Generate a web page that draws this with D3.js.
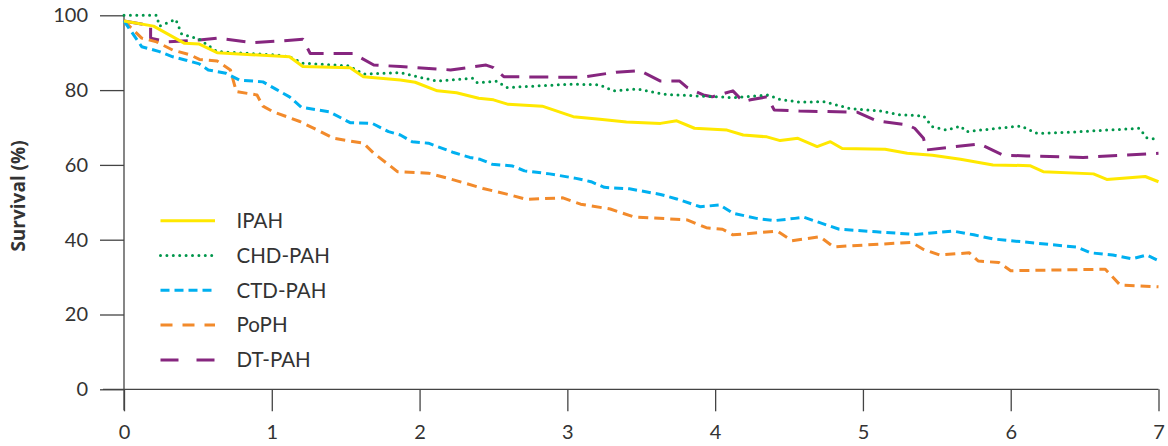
<!DOCTYPE html>
<html>
<head>
<meta charset="utf-8">
<script src="https://cdn.jsdelivr.net/npm/d3@7"></script>
<style>
  body { margin: 0; background: #fff; }
  text { font-family: Lato, "Open Sans", sans-serif; fill: #333; }
</style>
</head>
<body>
<div class="svg"></div>
<script>
// years since diagnosis, survival %
var ipah = [[0,98.5],[0.2,97.1],[0.41,92.5],[0.51,92.3],[0.63,90.0],[1.12,88.9],[1.21,86.3],[1.53,86.0],[1.62,83.6],[1.87,82.7],[1.97,82.1],[2.12,79.8],[2.25,79.3],[2.4,77.8],[2.5,77.4],[2.6,76.2],[2.83,75.7],[3.04,72.9],[3.22,72.2],[3.4,71.5],[3.63,71.1],[3.74,71.8],[3.86,69.8],[4.08,69.3],[4.19,68.0],[4.35,67.5],[4.44,66.5],[4.56,67.1],[4.69,64.9],[4.78,66.2],[4.86,64.4],[5.15,64.2],[5.3,63.1],[5.47,62.6],[5.66,61.5],[5.88,60.0],[6.13,59.8],[6.22,58.2],[6.56,57.6],[6.65,56.1],[6.91,56.9],[7,55.5]];
var chdPah = [[0,100],[0.22,100],[0.24,97.1],[0.35,98.9],[0.39,95.0],[0.51,93.6],[0.63,90.3],[1.03,89.4],[1.12,88.9],[1.21,87.2],[1.52,86.5],[1.62,84.3],[1.87,84.7],[1.98,83.6],[2.12,82.4],[2.36,83.2],[2.39,82.0],[2.52,82.4],[2.59,80.7],[3.04,81.6],[3.22,81.4],[3.31,79.8],[3.47,80.3],[3.65,78.9],[3.9,78.4],[4.12,78.0],[4.19,78.2],[4.36,78.7],[4.44,77.5],[4.57,76.8],[4.74,76.9],[4.91,75.1],[5.12,74.4],[5.25,73.4],[5.41,73.1],[5.47,70.2],[5.57,69.3],[5.66,70.4],[5.7,68.9],[5.84,69.5],[6.07,70.4],[6.18,68.4],[6.38,68.7],[6.87,69.8],[6.92,67.3],[7,66.8]];
var ctdPah = [[0,98.5],[0.12,91.6],[0.24,90.3],[0.33,88.9],[0.42,88.0],[0.51,87.0],[0.57,85.4],[0.69,84.5],[0.78,82.7],[0.94,82.2],[1.03,80.2],[1.12,78.2],[1.2,75.4],[1.39,74.2],[1.53,71.3],[1.68,71.1],[1.79,68.9],[1.87,68.0],[1.95,66.2],[2.06,65.8],[2.23,63.3],[2.34,62.0],[2.41,61.5],[2.49,60.2],[2.63,59.7],[2.71,58.4],[2.88,57.6],[3.06,56.4],[3.16,55.5],[3.25,54.0],[3.42,53.6],[3.63,52.1],[3.74,50.9],[3.9,48.8],[4.03,49.3],[4.12,47.1],[4.28,45.7],[4.4,45.1],[4.54,45.7],[4.6,46.0],[4.69,44.8],[4.84,42.8],[5.09,42.1],[5.36,41.4],[5.61,42.3],[5.75,41.3],[5.88,40.2],[6.45,38.0],[6.54,36.5],[6.69,35.9],[6.82,34.9],[6.92,35.9],[7,34.4]];
var poph = [[0,98.5],[0.12,93.9],[0.22,92.9],[0.33,90.7],[0.45,89.4],[0.51,88.2],[0.63,87.8],[0.72,85.4],[0.76,79.6],[0.9,78.7],[0.94,75.7],[1.01,74.2],[1.19,71.6],[1.33,68.9],[1.42,67.1],[1.62,65.8],[1.69,63.1],[1.78,60.4],[1.85,58.2],[2.06,57.8],[2.23,56.0],[2.43,53.7],[2.61,52.0],[2.72,50.8],[2.97,51.2],[3.09,49.5],[3.29,48.2],[3.45,46.1],[3.81,45.3],[3.94,43.2],[4.05,42.8],[4.12,41.3],[4.42,42.3],[4.52,39.7],[4.71,40.8],[4.8,38.1],[5.33,39.3],[5.41,37.4],[5.52,35.9],[5.72,36.5],[5.78,34.3],[5.92,33.9],[6.0,31.7],[6.64,32.1],[6.74,27.9],[7,27.4]];
var dtPah = [[0,98.5],[0.18,97.2],[0.18,93.9],[0.29,92.9],[0.51,93.4],[0.63,93.9],[0.87,92.7],[1.08,93.2],[1.21,93.6],[1.26,89.8],[1.55,89.8],[1.69,86.7],[1.87,86.3],[2.21,85.4],[2.45,86.7],[2.5,86.0],[2.57,83.6],[3.09,83.4],[3.33,84.8],[3.49,85.2],[3.63,82.4],[3.76,82.4],[3.81,80.7],[3.92,78.7],[3.98,78.2],[4.12,79.8],[4.19,76.9],[4.24,77.4],[4.35,78.2],[4.4,74.7],[4.57,74.4],[4.96,74.1],[5.09,71.8],[5.3,70.7],[5.35,69.8],[5.41,67.1],[5.43,64.0],[5.63,64.9],[5.79,65.6],[5.95,62.6],[6.11,62.4],[6.49,62.0],[7,63.1]];

var seriesNames = ["IPAH", "CHD-PAH", "CTD-PAH", "PoPH", "DT-PAH"];
var xTicks = [0, 1, 2, 3, 4, 5, 6, 7];
var yTicks = [0, 20, 40, 60, 80, 100];

var styles = [
	{color: "#ffe800", dash: null, legendDash: null, cap: "butt"},
	{color: "#00964b", dash: "0 6.4", legendDash: "0 6.4", cap: "round"},
	{color: "#00b0f0", dash: "9 5", legendDash: "9 5", cap: "butt"},
	{color: "#f28a2b", dash: "10 6", legendDash: "12 10", cap: "butt"},
	{color: "#86267f", dash: "19 10", legendDash: "18 18", cap: "butt"}
];
var allSeries = [ipah, chdPah, ctdPah, poph, dtPah];

var width = 1168, height = 446;
var svg = d3.select("div.svg").append("svg")
	.attr("width", width)
	.attr("height", height);

var x = d3.scaleLinear().domain([0, 7]).range([124, 1158.5]);
var y = d3.scaleLinear().domain([0, 100]).range([389.3, 15.3]);

// axes
var xAxis = d3.axisBottom(x).tickValues(xTicks).tickFormat(d3.format("d")).tickSize(22).tickPadding(14);
var yAxis = d3.axisLeft(y).tickValues(yTicks).tickFormat(d3.format("d")).tickSize(24).tickPadding(12);

var gx = svg.append("g").attr("transform", `translate(0,${y(0)})`).call(xAxis);
var gy = svg.append("g").attr("transform", `translate(${x(0)},0)`).call(yAxis);
[gx, gy].forEach(function(g){
	g.select(".domain").remove();
	g.selectAll("line").attr("stroke", "#444").attr("stroke-width", 1.3);
	g.selectAll("text").style("font-size", "20px").attr("fill", "#333");
});

svg.append("line")
	.attr("x1", x(0) - 21).attr("x2", x(7))
	.attr("y1", y(0)).attr("y2", y(0))
	.attr("stroke", "#444").attr("stroke-width", 1.3);
svg.append("line")
	.attr("x1", x(0)).attr("x2", x(0))
	.attr("y1", y(100)).attr("y2", y(0) + 21)
	.attr("stroke", "#444").attr("stroke-width", 1.3);

svg.append("text")
	.attr("transform", "translate(25,196) rotate(-90)")
	.attr("text-anchor", "middle")
	.style("font-family", "'Open Sans', sans-serif")
	.style("font-size", "19px")
	.style("font-weight", "bold")
	.text("Survival (%)");

var line = d3.line()
	.x(d => x(d[0]))
	.y(d => y(d[1]));

// draw back to front so yellow sits on top like the original
[4, 3, 2, 1, 0].forEach(function(i){
	svg.append("path")
		.datum(allSeries[i])
		.attr("fill", "none")
		.attr("stroke", styles[i].color)
		.attr("stroke-width", 3)
		.attr("stroke-linejoin", "round")
		.attr("stroke-linecap", styles[i].cap)
		.attr("stroke-dasharray", styles[i].dash)
		.attr("d", line);
});

// legend
var legend = svg.append("g");
seriesNames.forEach(function(name, i){
	var ly = 220.7 + i * 34.8;
	legend.append("line")
		.attr("x1", 160.5).attr("x2", 215)
		.attr("y1", ly).attr("y2", ly)
		.attr("stroke", styles[i].color)
		.attr("stroke-width", 3)
		.attr("stroke-linecap", styles[i].cap)
		.attr("stroke-dasharray", styles[i].legendDash);
	legend.append("text")
		.attr("x", 236.5).attr("y", ly)
		.attr("dy", "0.36em")
		.style("font-size", "20.5px")
		.text(name);
});
</script>
</body>
</html>
